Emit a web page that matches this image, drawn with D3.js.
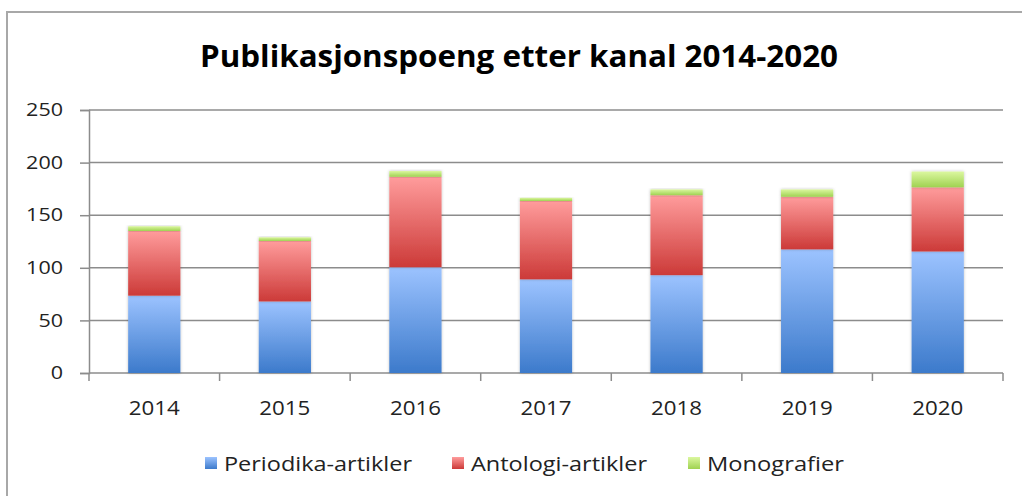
<!DOCTYPE html>
<html>
<head>
<meta charset="utf-8">
<script src="https://cdn.jsdelivr.net/npm/d3@7"></script>
<style>
  body { margin: 0; background: #fff; }
  text { font-family: "Open Sans", "Noto Sans", sans-serif; fill: #222; }
</style>
</head>
<body>
<svg id="chart" width="1022" height="496"></svg>
<script>
// data
var years = ["2014", "2015", "2016", "2017", "2018", "2019", "2020"];
var periodika = [73.5, 68, 100.5, 89, 93, 117.5, 115.5];
var antologi = [61.5, 57.5, 86, 74.5, 76, 50, 61];
var monografier = [4.5, 3.5, 5.5, 3, 5.5, 7, 15];
var seriesNames = ["Periodika-artikler", "Antologi-artikler", "Monografier"];
var yTicks = [0, 50, 100, 150, 200, 250];

var rows = years.map(function(y, i) {
  return { year: y, p: periodika[i], a: antologi[i], m: monografier[i] };
});

var svg = d3.select("#chart");
var mLeft = 89, mRight = 1003, mTop = 110, mBottom = 373;

// chart frame
svg.append("rect")
  .attr("x", 7).attr("y", 12)
  .attr("width", 1040).attr("height", 520)
  .attr("fill", "none")
  .attr("stroke", "#a8a8a8")
  .attr("stroke-width", 2);

svg.append("text")
  .attr("x", 519).attr("y", 67)
  .attr("text-anchor", "middle")
  .attr("textLength", 638).attr("lengthAdjust", "spacingAndGlyphs")
  .style("font-size", "31px")
  .style("font-weight", "bold")
  .style("fill", "#000")
  .text("Publikasjonspoeng etter kanal 2014-2020");

var x = d3.scaleBand().domain(years).range([mLeft, mRight]).paddingInner(0.6).paddingOuter(0.3);
var xb = d3.scaleBand().domain(years).range([mLeft, mRight]);
var y = d3.scaleLinear().domain([0, 250]).range([mBottom, mTop]);

// gradients
var defs = svg.append("defs");
var grads = [
  { id: "gp", top: "#9cc3ff", bot: "#3c7acb" },
  { id: "ga", top: "#ff9c9c", bot: "#cc3a38" },
  { id: "gm", top: "#dbf79f", bot: "#9fd251" }
];
grads.forEach(function(g) {
  var lg = defs.append("linearGradient").attr("id", g.id)
    .attr("x1", 0).attr("y1", 0).attr("x2", 0).attr("y2", 1);
  lg.append("stop").attr("offset", "0%").attr("stop-color", g.top);
  lg.append("stop").attr("offset", "100%").attr("stop-color", g.bot);
});
var shadow = defs.append("filter").attr("id", "sh")
  .attr("x", "-20%").attr("y", "-20%").attr("width", "140%").attr("height", "140%");
shadow.append("feDropShadow").attr("dx", 0).attr("dy", 0)
  .attr("stdDeviation", 1.5).attr("flood-color", "#000").attr("flood-opacity", 0.25);

// grid
svg.append("g").selectAll("line").data(yTicks.slice(1)).enter().append("line")
  .attr("x1", mLeft).attr("x2", mRight)
  .attr("y1", function(d) { return y(d); }).attr("y2", function(d) { return y(d); })
  .attr("stroke", "#8c8c8c").attr("stroke-width", 1.5);

// y axis
var yAxis = svg.append("g")
  .attr("transform", "translate(" + mLeft + ",0)")
  .call(d3.axisLeft(y).tickValues(yTicks).tickSize(9).tickPadding(17));
yAxis.select(".domain").attr("stroke", "#8c8c8c").attr("stroke-width", 1.5);
yAxis.selectAll(".tick line").attr("stroke", "#8c8c8c").attr("stroke-width", 1.5);
yAxis.selectAll("text")
  .attr("textLength", function(d) { return String(d).length * 12.3; })
  .attr("lengthAdjust", "spacingAndGlyphs")
  .style("font-size", "18px").style("fill", "#222").style("font-family", "'Open Sans', sans-serif");

// x axis
var xAxisG = svg.append("g").attr("transform", "translate(0," + mBottom + ")");
xAxisG.append("line").attr("x1", mLeft).attr("x2", mRight)
  .attr("stroke", "#8c8c8c").attr("stroke-width", 1.5);
var bounds = years.map(function(d) { return xb(d); }).concat([mRight]);
xAxisG.selectAll("line.tk").data(bounds).enter().append("line")
  .attr("class", "tk")
  .attr("x1", function(d) { return d; }).attr("x2", function(d) { return d; })
  .attr("y1", 0).attr("y2", 8)
  .attr("stroke", "#8c8c8c").attr("stroke-width", 1.5);
xAxisG.selectAll("text").data(years).enter().append("text")
  .attr("x", function(d) { return xb(d) + xb.bandwidth() / 2; })
  .attr("y", 42)
  .attr("text-anchor", "middle")
  .attr("textLength", 51).attr("lengthAdjust", "spacingAndGlyphs")
  .style("font-size", "20px")
  .text(function(d) { return d; });

// stacked bars
var stack = d3.stack().keys(["p", "a", "m"]);
var series = stack(rows);
var fills = ["url(#gp)", "url(#ga)", "url(#gm)"];

svg.append("g").selectAll("g").data(series).enter().append("g")
  .attr("fill", function(d, i) { return fills[i]; })
  .selectAll("rect").data(function(d) { return d; }).enter().append("rect")
  .attr("x", function(d) { return x(d.data.year); })
  .attr("width", x.bandwidth())
  .attr("y", function(d) { return y(d[1]); })
  .attr("height", function(d) { return y(d[0]) - y(d[1]); })
  .attr("filter", "url(#sh)");

// legend
var legendX = [205, 452, 688];
var legendW = [188, 176, 137];
var legend = svg.append("g").selectAll("g").data(seriesNames).enter().append("g")
  .attr("transform", function(d, i) { return "translate(" + legendX[i] + ",457)"; });
legend.append("rect")
  .attr("width", 12).attr("height", 12)
  .attr("fill", function(d, i) { return fills[i]; });
legend.append("text")
  .attr("x", 19).attr("y", 14)
  .attr("textLength", function(d, i) { return legendW[i]; })
  .attr("lengthAdjust", "spacingAndGlyphs")
  .style("font-size", "20px")
  .text(function(d) { return d; });
</script>
</body>
</html>
